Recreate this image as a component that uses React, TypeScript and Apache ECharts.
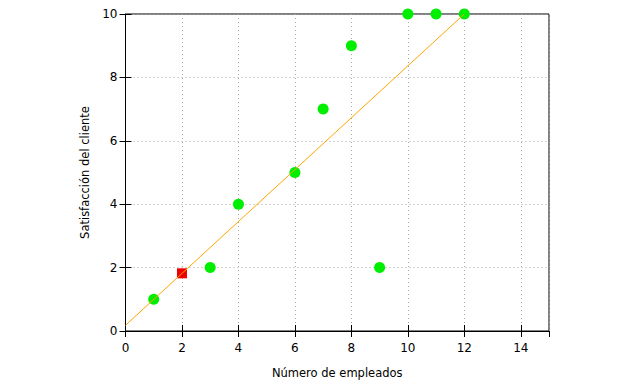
import React, { useEffect, useRef } from "react";
import * as echarts from "echarts";

const greenPoints: [number, number][] = [
  [1, 1], [3, 2], [4, 4], [6, 5], [7, 7], [8, 9], [9, 2], [10, 10], [11, 10], [12, 10],
];
const redPoints: [number, number][] = [[2, 1.82]];
const fitLine: [number, number][] = [[0, 0.18], [12, 10]];
const xTitle = "Número de empleados";
const yTitle = "Satisfacción del cliente";

export default function App() {
  const ref = useRef<HTMLDivElement>(null);
  useEffect(() => {
    const chart = echarts.init(ref.current!, null, { renderer: "svg" });
    const font = "DejaVu Sans";
    const tick = { show: true, inside: true, length: 6, lineStyle: { color: "#000", width: 1 } };
    const split = { show: true, lineStyle: { color: "#a8a8a8", type: [1, 3] as any, width: 1 } };
    chart.setOption({
      animation: false,
      backgroundColor: "#fff",
      grid: { left: 125.5, right: 91, top: 14, bottom: 48.5, show: true, borderColor: "#000", borderWidth: 1, backgroundColor: "transparent" },
      xAxis: [
        {
          type: "value", min: 0, max: 15, interval: 2, position: "bottom",
          name: xTitle, nameLocation: "middle", nameGap: 36,
          nameTextStyle: { fontFamily: font, fontSize: 11.5, color: "#000" },
          axisLine: { show: true, lineStyle: { color: "#000" } },
          axisTick: tick,
          axisLabel: { fontFamily: font, fontSize: 12, color: "#000", margin: 11, showMaxLabel: false },
          splitLine: split,
        },
        {
          type: "value", min: 0, max: 15, interval: 2, position: "top",
          axisLine: { show: false }, axisTick: tick, axisLabel: { show: false }, splitLine: { show: false },
        },
      ],
      yAxis: [
        {
          type: "value", min: 0, max: 10, interval: 2, position: "left",
          name: yTitle, nameLocation: "middle", nameGap: 34,
          nameTextStyle: { fontFamily: font, fontSize: 11.5, color: "#000" },
          axisLine: { show: true, lineStyle: { color: "#000" } },
          axisTick: tick,
          axisLabel: { fontFamily: font, fontSize: 12, color: "#000", margin: 8 },
          splitLine: split,
        },
        {
          type: "value", min: 0, max: 10, interval: 2, position: "right",
          axisLine: { show: false }, axisTick: tick, axisLabel: { show: false }, splitLine: { show: false },
        },
      ],
      series: [
        {
          type: "line", data: fitLine, showSymbol: false, symbol: "none",
          lineStyle: { color: "#ffa500", width: 1 }, clip: false,
        },
        {
          type: "scatter", data: greenPoints, symbol: "circle", symbolSize: 11,
          itemStyle: { color: "#00ee00", opacity: 1 }, clip: false,
        },
        {
          type: "scatter", data: redPoints, symbol: "rect", symbolSize: 10,
          itemStyle: { color: "#ee0000", opacity: 1 }, clip: false,
        },
      ],
    });
    return () => chart.dispose();
  }, []);
  return <div ref={ref} style={{ position: "fixed", left: 0, top: 0, width: 640, height: 384 }} />;
}
